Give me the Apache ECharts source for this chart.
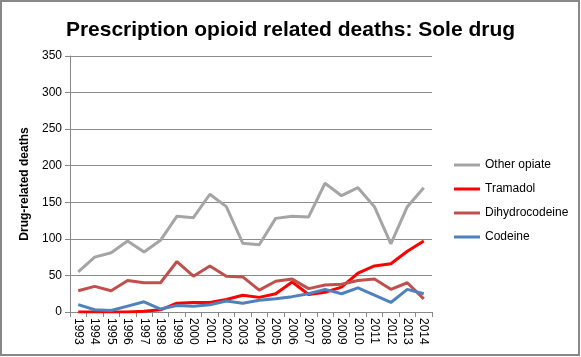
<!DOCTYPE html>
<html><head><meta charset="utf-8">
<script src="https://cdn.jsdelivr.net/npm/echarts@6/dist/echarts.min.js"></script>
<style>html,body{margin:0;padding:0;background:#fff}#c{width:581px;height:357px}</style>
</head><body><div id="c"></div>
<script>
const years = ['1993','1994','1995','1996','1997','1998','1999','2000','2001','2002','2003','2004','2005','2006','2007','2008','2009','2010','2011','2012','2013','2014'];
const otherOpiate = [55,75,81,97,82,98,131,129,161,144,94,92,128,131,130,176,159,170,144,93,144,170];
const tramadol = [0,0,0,0,1,3,12,13,13,17,23,20,25,41,24,27,34,53,63,66,83,97];
const dihydrocodeine = [29,35,29,43,40,40,69,49,63,49,48,30,42,45,32,37,38,43,45,31,40,18];
const codeine = [10,3,2,8,14,4,9,8,10,15,12,16,18,21,25,31,25,33,23,13,31,25];
const yTicks = [0,50,100,150,200,250,300,350];

const chart = echarts.init(document.getElementById('c'));
const FONT = 'Liberation Sans';
chart.setOption({
  animation: false,
  textStyle: {fontFamily: FONT},
  title: {text: 'Prescription opioid related deaths: Sole drug', left: 'center', top: 15,
    textStyle: {fontFamily: FONT, fontSize: 21, fontWeight: 'bold', color: '#000'}},
  graphic: [{type: 'rect', shape: {x: 1, y: 1, width: 578, height: 354},
    style: {fill: 'none', stroke: '#888', lineWidth: 2}, silent: true}],
  legend: {orient: 'vertical', left: 449, top: 154, itemWidth: 26, itemHeight: 3, itemGap: 12, icon: 'rect',
    textStyle: {fontFamily: FONT, fontSize: 12, color: '#000'},
    data: ['Other opiate','Tramadol','Dihydrocodeine','Codeine']},
  grid: {left: 70, right: 149, top: 56, bottom: 45, containLabel: false},
  xAxis: {type: 'category', data: years, boundaryGap: true,
    axisLine: {lineStyle: {color: '#888'}},
    axisTick: {show: true, interval: 0, length: 5, lineStyle: {color: '#888'}},
    axisLabel: {interval: 0, rotate: -90, fontSize: 12, color: '#000', margin: 6}},
  yAxis: {type: 'value', min: 0, max: 350, interval: 50,
    name: 'Drug-related deaths', nameLocation: 'middle', nameRotate: 90, nameGap: 35,
    nameTextStyle: {fontWeight: 'bold', fontSize: 12, color: '#000'},
    axisLine: {show: true, lineStyle: {color: '#888'}},
    axisTick: {show: true, length: 5, lineStyle: {color: '#888'}},
    axisLabel: {fontSize: 12, color: '#000', margin: 8, formatter: v => yTicks.includes(v) ? String(v) : ''},
    splitLine: {lineStyle: {color: '#8c8c8c', width: 1}}},
  series: [
    {name: 'Other opiate', type: 'line', data: otherOpiate, showSymbol: false, symbol: 'none', lineStyle: {width: 3, color: '#A5A5A5'}, itemStyle: {color: '#A5A5A5'}, z: 1},
    {name: 'Tramadol', type: 'line', data: tramadol, showSymbol: false, symbol: 'none', lineStyle: {width: 3, color: '#FF0000'}, itemStyle: {color: '#FF0000'}, z: 2},
    {name: 'Dihydrocodeine', type: 'line', data: dihydrocodeine, showSymbol: false, symbol: 'none', lineStyle: {width: 3, color: '#C0504D'}, itemStyle: {color: '#C0504D'}, z: 3},
    {name: 'Codeine', type: 'line', data: codeine, showSymbol: false, symbol: 'none', lineStyle: {width: 3, color: '#4F81BD'}, itemStyle: {color: '#4F81BD'}, z: 4}
  ]
});
</script></body></html>
